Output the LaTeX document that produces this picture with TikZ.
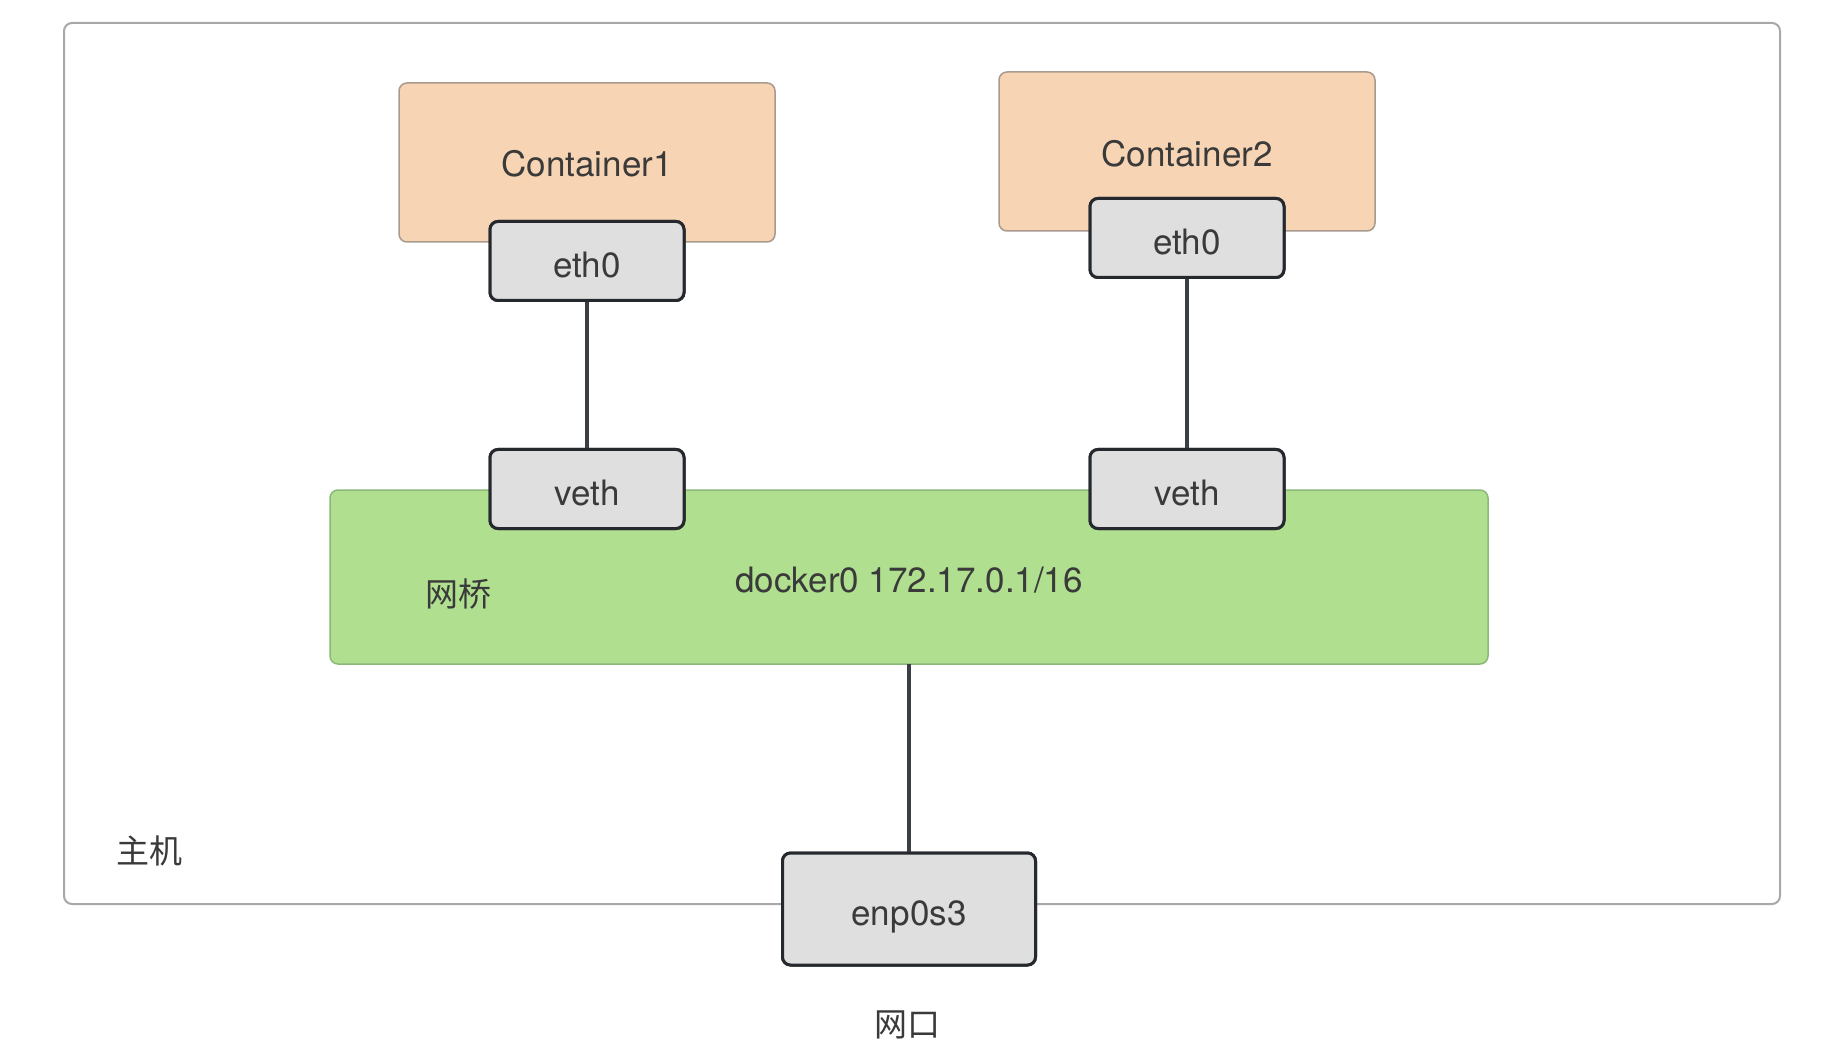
\documentclass[tikz,border=0pt]{standalone}
\usepackage{fontspec}
\setmainfont{TeX Gyre Heros}
\newfontfamily\cjk{Noto Sans CJK SC}
\definecolor{peach}{HTML}{F7D4B3}
\definecolor{peachline}{HTML}{A89A8E}
\definecolor{bridgegreen}{HTML}{B0E08F}
\definecolor{bridgeline}{HTML}{8CB879}
\definecolor{portfill}{HTML}{DFDFDF}
\definecolor{portline}{HTML}{25292E}
\definecolor{txt}{HTML}{3A3A3A}
\definecolor{hostline}{HTML}{A8A8A8}
\begin{document}
\begin{tikzpicture}[x=1pt,y=-1pt,
  lbl/.style={text=txt,font=\fontsize{35}{40}\selectfont,inner sep=0pt},
  portlbl/.style={lbl,text height=33pt,text depth=0pt},
  cjklbl/.style={text=txt,font=\cjk\fontsize{33}{38}\selectfont,inner sep=0pt},
  hostbox/.style={draw=hostline,line width=2pt,fill=white,rounded corners=8pt},
  contbox/.style={draw=peachline,line width=1.5pt,fill=peach,rounded corners=8pt},
  bridgebox/.style={draw=bridgeline,line width=1.5pt,fill=bridgegreen,rounded corners=8pt},
  portbox/.style={draw=portline,line width=3pt,fill=portfill,rounded corners=8pt},
  smallport/.style={portbox,portlbl,minimum width=194pt,minimum height=79pt},
  bigport/.style={portbox,portlbl,minimum width=253pt,minimum height=112pt},
  wire/.style={draw=portline!90,line width=3.2pt}]
\useasboundingbox[fill=white] (0,0) rectangle (1824,1048);
% host
\draw[hostbox] (64,23) rectangle (1780,904);
\node[cjklbl] (hostlbl) at (149,851) {主机};
% containers
\draw[contbox] (399,83) rectangle (775,242);
\node[lbl] (c1) at (587,164) {Container1};
\draw[contbox] (999,72) rectangle (1375,231);
\node[lbl] (c2) at (1187,154) {Container2};
% bridge
\draw[bridgebox] (330,490) rectangle (1488,664);
\coordinate (brbot) at (909,664);
\node[lbl] (docker) at (909,580) {docker0 172.17.0.1/16};
\node[cjklbl] (bridgelbl) at (458,594) {网桥};
% ports (named, for the wires)
\node[smallport] (eth1) at (587,261) {eth0};
\node[smallport] (eth2) at (1187,238) {eth0};
\node[smallport] (veth1) at (587,489) {veth};
\node[smallport] (veth2) at (1187,489) {veth};
\node[bigport] (enp) at (909,909) {enp0s3};
\node[cjklbl] (wk) at (907,1025) {网口};
% wires
\draw[wire] (eth1.south) -- (veth1.north);
\draw[wire] (eth2.south) -- (veth2.north);
\draw[wire] (brbot) -- (enp.north);
% ports redrawn over wire ends
\node[smallport] at (587,261) {eth0};
\node[smallport] at (1187,238) {eth0};
\node[smallport] at (587,489) {veth};
\node[smallport] at (1187,489) {veth};
\node[bigport] at (909,909) {enp0s3};
\end{tikzpicture}
\end{document}
